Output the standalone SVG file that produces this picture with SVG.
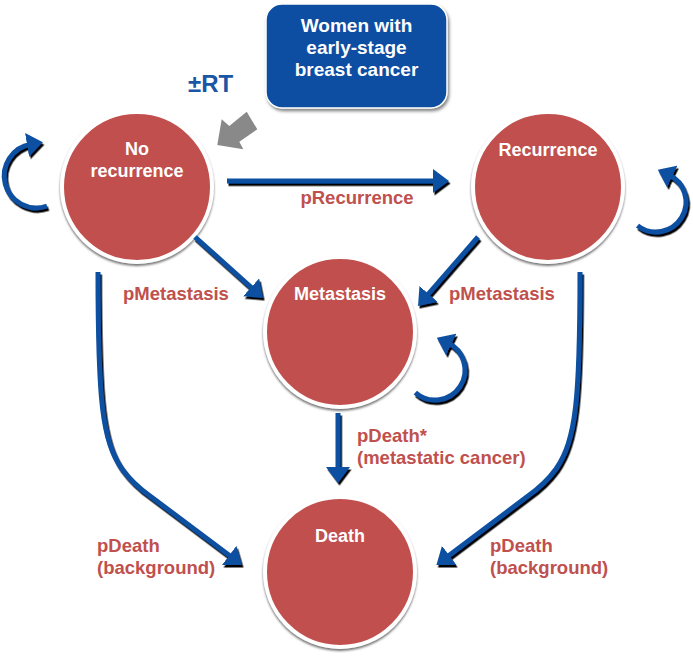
<svg xmlns="http://www.w3.org/2000/svg" width="693" height="656" viewBox="0 0 693 656">
<defs>
<style>
.node circle{fill:#C0504D;stroke:#fff;stroke-width:4;filter:url(#cshadow)}
.ntext{font-family:"Liberation Sans",Arial,sans-serif;font-weight:bold;font-size:18px;fill:#fff;text-anchor:middle}
.btext{font-size:19px}
.lbl{font-family:"Liberation Sans",Arial,sans-serif;font-weight:bold;font-size:18.5px;fill:#C0504D}
.conn{fill:none;stroke:#0D4FA0;stroke-width:5;marker-end:url(#ah)}
</style>
<filter id="cshadow" x="-20%" y="-20%" width="140%" height="140%">
<feDropShadow dx="0" dy="2" stdDeviation="1.2" flood-color="#555" flood-opacity="0.8"/>
</filter>
<filter id="lshadow" x="-20%" y="-20%" width="140%" height="140%">
<feDropShadow dx="1.5" dy="2.5" stdDeviation="0.3" flood-color="#000" flood-opacity="1"/>
</filter>
<filter id="bshadow" x="-20%" y="-20%" width="140%" height="140%">
<feDropShadow dx="1.5" dy="2.5" stdDeviation="1.5" flood-color="#666" flood-opacity="0.8"/>
</filter>
<marker id="ah" markerUnits="userSpaceOnUse" viewBox="0 0 16 24" markerWidth="16" markerHeight="24" refX="4" refY="12" orient="auto">
<path d="M0,0 L16,12 L0,24 z" fill="#0D4FA0"/>
</marker>
</defs>
<rect width="693" height="656" fill="#fff"/>

<g id="start">
<rect x="266" y="4" width="181" height="104" rx="16" fill="#0B4EA2" stroke="#fff" stroke-width="1.5" filter="url(#bshadow)"/>
<text class="ntext btext" x="356.5" y="32">Women with</text>
<text class="ntext btext" x="356.5" y="54">early-stage</text>
<text class="ntext btext" x="356.5" y="76">breast cancer</text>
</g>

<g id="rt">
<text x="188" y="92" font-family="'Liberation Sans',Arial,sans-serif" font-weight="bold" font-size="24" fill="#1A56A6">±RT</text>
<polygon points="217.3,145 221.7,119.3 229.3,126 246.7,111.7 257.3,129.3 239.3,141.7 243.3,149.3" fill="#898989"/>
</g>

<g id="no-recurrence" class="node">
<circle cx="137" cy="187" r="75"/>
<text class="ntext" x="137" y="155">No</text>
<text class="ntext" x="137" y="177">recurrence</text>
</g>

<g id="recurrence" class="node">
<circle cx="548" cy="187" r="75"/>
<text class="ntext" x="548" y="156">Recurrence</text>
</g>

<g id="metastasis" class="node">
<circle cx="340" cy="332" r="75"/>
<text class="ntext" x="340" y="300">Metastasis</text>
</g>

<g id="death" class="node">
<circle cx="340" cy="572" r="75"/>
<text class="ntext" x="340" y="542">Death</text>
</g>

<g id="connectors" filter="url(#lshadow)">
<path class="conn" d="M227,181 L437,181"/>
<path class="conn" d="M195,237 L254.1,290"/>
<path class="conn" d="M478,237 L425.9,296.9"/>
<path class="conn" d="M338,413 L338,471"/>
<path class="conn" d="M98,272 C98,400 102,440 122,469 C130,480 140,489 150,496 L232.4,557.8"/>
<path class="conn" d="M580,272 C580,400 576,440 556,469 C548,480 538,489 528,496 L446,557.8"/>
<path class="conn" d="M47,206 A32,32 0 1 1 31,144.3"/>
<path class="conn" d="M637.5,225.6 A30,30 0 1 0 668.7,174.8"/>
<path class="conn" d="M415.3,392.6 A30,30 0 1 0 447.7,342.8"/>
</g>

<g id="labels">
<text class="lbl" x="357" y="204" text-anchor="middle">pRecurrence</text>
<text class="lbl" x="123" y="300">pMetastasis</text>
<text class="lbl" x="449" y="300">pMetastasis</text>
<text class="lbl" x="357" y="442">pDeath*</text>
<text class="lbl" x="357" y="464">(metastatic cancer)</text>
<text class="lbl" x="97" y="552">pDeath</text>
<text class="lbl" x="97" y="574">(background)</text>
<text class="lbl" x="490" y="552">pDeath</text>
<text class="lbl" x="490" y="574">(background)</text>
</g>
</svg>
